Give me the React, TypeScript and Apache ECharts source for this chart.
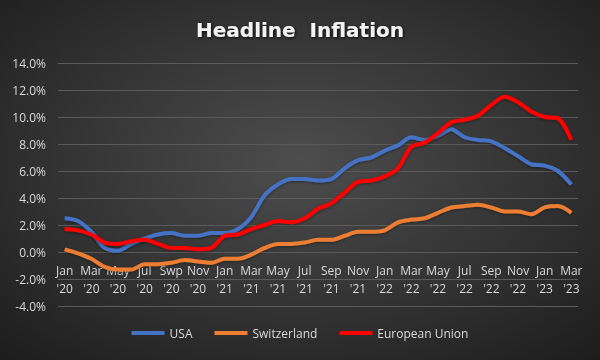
import React, { useEffect, useRef } from "react";
import * as echarts from "echarts";

const months = ["Jan","Feb","Mar","Apr","May","Jun","Jul","Aug","Swp","Oct","Nov","Dec"];
const monthsOther = ["Jan","Feb","Mar","Apr","May","Jun","Jul","Aug","Sep","Oct","Nov","Dec"];
const years = ["20", "21", "22", "23"];

const categories: string[] = [];
years.forEach((y, yi) => {
  const names = yi === 0 ? months : monthsOther;
  names.forEach((m, mi) => {
    if (yi === 3 && mi > 2) return;
    categories.push(m + "\n'" + y);
  });
});

const usa = [2.5, 2.3, 1.5, 0.3, 0.1, 0.6, 1.0, 1.3, 1.4, 1.2, 1.2, 1.4,
  1.4, 1.7, 2.6, 4.2, 5.0, 5.4, 5.4, 5.3, 5.4, 6.2, 6.8, 7.0,
  7.5, 7.9, 8.5, 8.3, 8.6, 9.1, 8.5, 8.3, 8.2, 7.7, 7.1, 6.5,
  6.4, 6.0, 5.0];
const switzerland = [0.2, -0.1, -0.5, -1.1, -1.3, -1.3, -0.9, -0.9, -0.8, -0.6, -0.7, -0.8,
  -0.5, -0.5, -0.2, 0.3, 0.6, 0.6, 0.7, 0.9, 0.9, 1.2, 1.5, 1.5,
  1.6, 2.2, 2.4, 2.5, 2.9, 3.3, 3.4, 3.5, 3.3, 3.0, 3.0, 2.8,
  3.3, 3.4, 2.9];
const eu = [1.7, 1.6, 1.3, 0.7, 0.6, 0.8, 0.9, 0.6, 0.3, 0.3, 0.2, 0.3,
  1.2, 1.3, 1.7, 2.0, 2.3, 2.2, 2.5, 3.2, 3.6, 4.4, 5.2, 5.3,
  5.6, 6.2, 7.8, 8.1, 8.8, 9.6, 9.8, 10.1, 10.9, 11.5, 11.1, 10.4,
  10.0, 9.9, 8.3];

const seriesNames = ["USA", "Switzerland", "European Union"];
const seriesColors = ["#4472C4", "#ED7D31", "#FF0000"];

export default function App() {
  const ref = useRef<HTMLDivElement>(null);
  useEffect(() => {
    const chart = echarts.init(ref.current!, null, { renderer: "svg" });
    const textColor = "#d9d9d9";
    const font = "'Open Sans', 'DejaVu Sans', sans-serif";
    const mk = (name: string, data: number[], color: string) => ({
      name,
      type: "line",
      data,
      smooth: 0.3,
      symbol: "none",
      lineStyle: { width: 4, color, shadowColor: "rgba(0,0,0,0.4)", shadowBlur: 3, shadowOffsetY: 1 },
      itemStyle: { color },
    });
    chart.setOption({
      animation: false,
      backgroundColor: {
        type: "radial",
        x: 0.5,
        y: 0.45,
        r: 0.75,
        colorStops: [
          { offset: 0, color: "#4d4d4d" },
          { offset: 1, color: "#1c1c1c" },
        ],
      },
      title: {
        text: "Headline  Inflation",
        left: "center",
        top: 15,
        textStyle: {
          color: "#f2f2f2",
          fontSize: 20,
          fontWeight: "bold",
          fontFamily: "'DejaVu Sans', sans-serif",
          textShadowColor: "rgba(0,0,0,0.8)",
          textShadowBlur: 3,
          textShadowOffsetX: 1,
          textShadowOffsetY: 1,
        },
      },
      legend: {
        bottom: 16,
        left: "center",
        icon: "rect",
        itemWidth: 33,
        itemHeight: 4,
        itemGap: 22,
        textStyle: { color: textColor, fontSize: 12, fontFamily: font },
        data: seriesNames,
      },
      grid: { left: 58, right: 22, top: 63, bottom: 54 },
      xAxis: {
        type: "category",
        data: categories,
        boundaryGap: true,
        offset: -54,
        axisLine: { show: false },
        axisTick: { show: false },
        axisLabel: {
          interval: 1,
          color: textColor,
          fontSize: 12,
          fontFamily: font,
          lineHeight: 18,
          margin: 9,
        },
      },
      yAxis: {
        type: "value",
        min: -4,
        max: 14,
        interval: 2,
        axisLine: { show: false },
        axisTick: { show: false },
        splitLine: { lineStyle: { color: "#5a5a5a", width: 1 } },
        axisLabel: {
          color: textColor,
          fontSize: 12,
          fontFamily: font,
          margin: 12,
          formatter: (v: number) => v.toFixed(1) + "%",
        },
      },
      series: [
        mk(seriesNames[0], usa, seriesColors[0]),
        mk(seriesNames[1], switzerland, seriesColors[1]),
        mk(seriesNames[2], eu, seriesColors[2]),
      ],
    });
    return () => chart.dispose();
  }, []);
  return (
    <div
      ref={ref}
      style={{ position: "fixed", left: 0, top: 0, width: 600, height: 360 }}
    />
  );
}
